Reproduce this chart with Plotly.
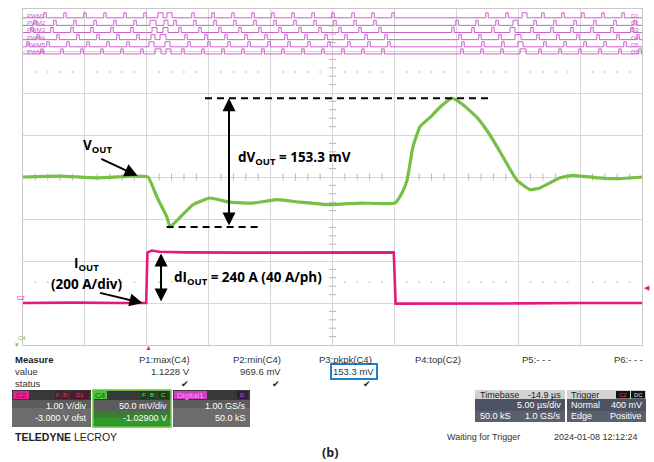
import plotly.graph_objects as go

# ---------------- data read off the scope capture ----------------
# time in µs, trigger at 0, 5 µs/div over 10 divisions
T_RANGE = [-10, 40]
DIV_RANGE = [0, 8]

# C4 : VOUT (V), 50 mV/div, centred on 1.029 V
VOUT_T = [-10, -7, -4, -1, 0.1, 0.82, 1.63, 1.87, 2.68, 3.73, 5.10, 6.72, 8.58, 10.52,
          12.37, 14.80, 17.22, 20.05, 20.61, 21.02, 21.50, 22.07, 22.88, 23.68, 24.65,
          25.54, 26.67, 27.72, 28.77, 29.90, 30.95, 31.76, 33.38, 34.43, 36.37, 38.0, 40.0]
VOUT_V = [1.029, 1.030, 1.028, 1.030, 1.029, 1.005, 0.981, 0.9696, 0.981, 0.996, 1.004,
          0.999, 0.998, 1.002, 0.999, 0.996, 0.998, 0.998, 1.010, 1.025, 1.065, 1.089,
          1.100, 1.112, 1.1228, 1.115, 1.100, 1.079, 1.053, 1.025, 1.014, 1.016, 1.028,
          1.031, 1.028, 1.027, 1.029]
C4_CENTER_V = 1.029
C4_V_PER_DIV = 0.05

# C2 : IOUT (A), 200 A/div
IOUT_T = [-10, -6, -2, -0.05, 0.05, 0.4, 1.0, 3.0, 8.0, 14.0, 19.95, 20.1, 25.0, 30.0, 35.0, 40.0]
IOUT_A = [0, 2, 0, 0, 240, 250, 244, 241, 240, 242, 241, -3, -4, -2, 0, 0]
C2_A_PER_DIV = 200
C2_ZERO_DIV = 1.0

# digital PWM1..PWM6: narrow pulse centres (µs) and wide pulses (start, end)
PWM1_T = [-8.22, -6.61, -4.99, -3.38, -1.76, -0.15, 3.73, 5.35, 6.96, 8.58, 10.19, 11.81,
          13.43, 15.04, 16.66, 18.27, 19.89, 27.48, 29.10, 32.00, 33.62, 35.23, 36.85, 38.47]
PWM1_WIDE = [(0.90, 1.31), (1.63, 2.04), (30.31, 30.71)]
PWM2_T = [-9.03, -7.42, -5.80, -4.18, -2.57, -0.95, 2.28, 3.89, 5.51, 7.12, 8.74, 10.36,
          11.97, 13.59, 15.20, 16.82, 18.43, 25.06, 26.67, 28.29, 31.36, 32.97, 34.59, 36.20,
          37.82, 39.44]
PWM2_WIDE = [(0.26, 0.74), (1.39, 1.71), (29.58, 29.98)]
PWM3_T = [-9.27, -7.66, -6.04, -4.43, -2.81, -1.20, 2.68, 4.30, 5.91, 7.53, 9.14, 10.76,
          12.38, 13.99, 15.61, 17.22, 18.84, 24.73, 26.35, 27.96, 31.12, 32.73, 34.35, 35.96,
          37.58, 39.19]
PWM3_WIDE = [(0.42, 0.82), (1.31, 1.71), (29.34, 29.74)]
PWM4_T = [-8.79, -7.17, -5.56, -3.94, -2.33, -0.71, 3.17, 4.78, 6.40, 8.01, 9.63, 11.24,
          12.86, 14.48, 16.09, 17.71, 19.32, 25.30, 26.91, 28.53, 31.60, 33.21, 34.83, 36.45,
          38.06, 39.68]
PWM4_WIDE = [(0.34, 0.66), (1.07, 1.55), (29.74, 30.23)]
PWM5_T = [-9.60, -7.98, -6.37, -4.75, -3.13, -1.52, 3.41, 5.02, 6.64, 8.26, 9.87, 11.49,
          13.10, 14.72, 16.33, 17.95, 19.56, 25.54, 27.16, 28.77, 32.16, 33.78, 35.40, 37.01,
          38.63]
PWM5_WIDE = [(0.18, 0.58), (1.47, 1.87), (29.98, 30.39)]
PWM6_T = [-8.47, -6.85, -5.23, -3.62, -2.00, -0.39, 2.92, 4.54, 6.16, 7.77, 9.39, 11.00,
          12.62, 14.23, 15.85, 17.46, 19.08, 25.46, 27.08, 28.69, 31.76, 33.38, 34.99, 36.61,
          38.22, 39.84]
PWM6_WIDE = [(0.66, 1.15), (1.55, 1.95), (30.15, 30.63)]
PWM_PULSE_W = 0.2
PWM_BASE_DIV = [7.79, 7.61, 7.44, 7.27, 7.10, 6.93]
PWM_HIGH_DIV = 0.12

MEAS_NAMES = ["P1:max(C4)", "P2:min(C4)", "P3:pkpk(C4)", "P4:top(C2)", "P5:- - -", "P6:- - -"]
MEAS_VALUES = ["1.1228 V", "969.6 mV", "153.3 mV", "", "", ""]
MEAS_OK = [True, True, True, False, False, False]

DV_LABEL = "153.3 mV"
DI_LABEL = "240 A (40 A/ph)"

# ---------------- styling ----------------
GREEN = "#76c043"
PINK = "#e5187c"
DIG = "#c862c8"
GRID = "#d6d6d6"
L, R, T, B = 23, 642, 9, 345      # scope screen in page pixels
W, H = 654, 462
SANS = "Liberation Sans, Arial, sans-serif"
BOLD = "Open Sans, Roboto, Arial, sans-serif"


def px(x, y):
    """page pixel -> paper coords of the plot area"""
    return (x - L) / (R - L), (B - y) / (B - T)


def v_div(v):
    return (v - C4_CENTER_V) / C4_V_PER_DIV + 4


def i_div(a):
    return a / C2_A_PER_DIV + C2_ZERO_DIV


def pwm_xy(centres, wide, base):
    spans = [(c - PWM_PULSE_W / 2, c + PWM_PULSE_W / 2) for c in centres] + list(wide)
    spans.sort()
    xs, ys = [T_RANGE[0]], [base]
    for a, b in spans:
        xs += [a, a, b, b]
        ys += [base, base + PWM_HIGH_DIV, base + PWM_HIGH_DIV, base]
    xs.append(T_RANGE[1])
    ys.append(base)
    return xs, ys


fig = go.Figure()

# centre crosshair ticks and dotted rows
tick_x = [float(t) for t in range(-10, 41) if t % 5]
fig.add_trace(go.Scatter(x=tick_x, y=[4] * len(tick_x), mode="markers", hoverinfo="skip",
                         marker=dict(symbol="line-ns", size=5, line=dict(color="#b8b8b8", width=1))))
tick_y = [k / 5 for k in range(0, 41) if k % 5]
fig.add_trace(go.Scatter(x=[15] * len(tick_y), y=tick_y, mode="markers", hoverinfo="skip",
                         marker=dict(symbol="line-ew", size=5, line=dict(color="#b8b8b8", width=1))))
for row in (1.5, 6.5):
    fig.add_trace(go.Scatter(x=tick_x, y=[row] * len(tick_x), mode="markers", hoverinfo="skip",
                             marker=dict(size=2, color="#cfcfcf")))

# digital traces
pwm_sets = [(PWM1_T, PWM1_WIDE), (PWM2_T, PWM2_WIDE), (PWM3_T, PWM3_WIDE),
            (PWM4_T, PWM4_WIDE), (PWM5_T, PWM5_WIDE), (PWM6_T, PWM6_WIDE)]
for k, (cen, wide) in enumerate(pwm_sets):
    xs, ys = pwm_xy(cen, wide, PWM_BASE_DIV[k])
    fig.add_trace(go.Scatter(x=xs, y=ys, mode="lines", line=dict(color=DIG, width=1),
                             hoverinfo="skip"))

# analog traces
fig.add_trace(go.Scatter(x=IOUT_T, y=[i_div(a) for a in IOUT_A], mode="lines",
                         line=dict(color=PINK, width=2.6), name="IOUT"))
fig.add_trace(go.Scatter(x=VOUT_T, y=[v_div(v) for v in VOUT_V], mode="lines",
                         line=dict(color=GREEN, width=3.2, shape="spline", smoothing=0.4),
                         name="VOUT"))

vmax, vmin = max(VOUT_V), min(VOUT_V)
ihi = max(IOUT_A[4:11])
shapes = [
    dict(type="line", xref="x", yref="y", x0=4.7, x1=27.7, y0=v_div(vmax), y1=v_div(vmax),
         line=dict(color="black", width=2, dash="7px,5px")),
    dict(type="line", xref="x", yref="y", x0=1.6, x1=9.0, y0=v_div(vmin), y1=v_div(vmin),
         line=dict(color="black", width=2, dash="7px,5px")),
]

ann = []


def arrow(x0, y0, x1, y1, both=False):
    ann.append(dict(x=x1, y=y1, ax=x0, ay=y0, xref="x", yref="y", axref="x", ayref="y",
                    text="", showarrow=True, arrowhead=2, arrowsize=1.3, arrowwidth=2,
                    arrowcolor="black", arrowside="end+start" if both else "end"))


arrow(6.64, v_div(vmin), 6.64, v_div(vmax), both=True)
arrow(1.15, i_div(0), 1.15, i_div(ihi) - 0.07, both=True)
arrow(-3.8, 4.45, -0.75, 4.03)
arrow(-3.9, 1.25, -0.35, 1.0)


def label(x, y, text, size=13.5, anchor="left", color="black", font=BOLD):
    ann.append(dict(x=x, y=y, xref="x", yref="y", text=text,
                    showarrow=False, xanchor=anchor, yanchor="middle",
                    font=dict(size=size, color=color, family=font)))


label(-3.95, 4.74, "<b>V<sub>OUT</sub></b>", anchor="center")
label(-4.85, 1.93, "<b>I<sub>OUT</sub></b>", anchor="center")
label(-4.85, 1.45, "<b>(200 A/div)</b>", anchor="center")
label(7.2, 4.45, f"<b>dV<sub>OUT</sub> = {DV_LABEL}</b>")
label(2.0, 1.6, f"<b>dI<sub>OUT</sub> = {DI_LABEL}</b>")

# PWM labels
for k in range(6):
    label(-9.85, PWM_BASE_DIV[k] + 0.05, f"PWM{k + 1}", size=6, color=DIG, font=SANS)
    label(39.95, PWM_BASE_DIV[k] + 0.05, f"D{k + 1}", size=6, anchor="right", color=DIG, font=SANS)


def ptext(x, y, text, size=9.5, anchor="left", color="#333", bold=False, font=SANS):
    xp, yp = px(x, y)
    ann.append(dict(x=xp, y=yp, xref="paper", yref="paper", showarrow=False,
                    text=f"<b>{text}</b>" if bold else text, xanchor=anchor, yanchor="middle",
                    font=dict(size=size, color=color, family=font)))


def prect(x0, y0, x1, y1, fill, line=None, lw=0):
    a, b = px(x0, y1)
    c, d = px(x1, y0)
    shapes.append(dict(type="rect", xref="paper", yref="paper", x0=a, y0=b, x1=c, y1=d,
                       fillcolor=fill, line=dict(color=line or fill, width=lw), layer="above"))


# ground / trigger markers
ptext(15, 298, "C2", size=6, color=PINK)
ptext(16, 338, "C4", size=6, color=GREEN)
ptext(17, 344, "▾", size=7, color=GREEN, anchor="center")
ptext(148, 347, "▲", size=7, color=PINK, anchor="center")
ptext(647, 287, "◀", size=7, color=PINK, anchor="center")

# measurement table
ptext(13, 359, "Measure", bold=True, color="#222")
ptext(13, 371, "value")
ptext(13, 383, "status")
col_right = [192, 283, 374, 463, 553, 645]
for xr, name, val, ok in zip(col_right, MEAS_NAMES, MEAS_VALUES, MEAS_OK):
    ptext(xr, 359, name, anchor="right")
    if val:
        ptext(xr if name[1] != "3" else 376, 371, val, anchor="right")
    if ok:
        ptext(xr - 7, 384, "✔", size=9, anchor="center", color="#222")
prect(331, 364, 377, 379, "rgba(0,0,0,0)", line="#1f7ec8", lw=2)

# channel panels
prect(12, 390, 91, 427, "#5c5c5c")
prect(12, 390, 91, 400, "#383838")
prect(12, 408, 91, 427, "#6c6c6c")
prect(13, 391, 29, 399, "#e3238f")
ptext(21, 395, "C2", size=8, color="#8a1050", anchor="center")
for x0, x1, t in ((55, 61, "F"), (62, 68, "B"), (70, 89, "D1")):
    prect(x0, 391, x1, 399, "#4a1a30")
    ptext((x0 + x1) / 2, 395, t, size=6, color="#e04070", anchor="center")
ptext(89, 406, "1.00 V/div", size=9, color="white", anchor="right")
ptext(89, 418, "-3.000 V ofst", size=9, color="white", anchor="right")

prect(93, 390, 171, 427, "#5c5c5c", line="#62d13a", lw=1.5)
prect(94, 391, 170, 400, "#383838")
prect(94, 411, 170, 426, "#3d7a34")
prect(94, 418, 170, 426, "#2f9a2a")
prect(94, 391, 107, 399, "#4cc23a")
ptext(100.5, 395, "C4", size=8, color="#1c5a14", anchor="center")
for x0, x1, t in ((141, 147, "F"), (149, 155, "B"), (158, 168, "C")):
    prect(x0, 391, x1, 399, "#1e3a1a")
    ptext((x0 + x1) / 2, 395, t, size=6, color="#6ee05a", anchor="center")
ptext(169, 406, "50.0 mV/div", size=9, color="white", anchor="right")
ptext(169, 418, "-1.02900 V", size=9, color="white", anchor="right")

prect(173, 390, 250, 427, "#5c5c5c")
prect(173, 390, 250, 400, "#383838")
prect(173, 408, 250, 427, "#6c6c6c")
prect(174, 391, 207, 399, "#d23cc8")
ptext(190.5, 395, "Digital1", size=8, color="#f0a0f0", anchor="center")
prect(237, 391, 248, 399, "#3a1a40")
ptext(242.5, 395, "D", size=6, color="#c060e0", anchor="center")
ptext(248, 406, "1.00 GS/s", size=9, color="white", anchor="right")
ptext(248, 418, "50.0 kS", size=9, color="white", anchor="right")

prect(475, 390, 565, 422, "#4d5362")
prect(475, 390, 565, 399, "#d2d2d2")
prect(475, 411, 565, 422, "#5a606e")
ptext(478, 394.5, "Timebase", size=9, color="#222")
ptext(563, 394.5, "-14.9 µs", size=9, color="#222", anchor="right")
ptext(563, 405, "5.00 µs/div", size=9, color="white", anchor="right")
ptext(478, 416, "50.0 kS", size=9, color="white")
ptext(563, 416, "1.0 GS/s", size=9, color="white", anchor="right")

prect(567, 390, 646, 422, "#4d5362")
prect(567, 390, 646, 399, "#d2d2d2")
prect(567, 411, 646, 422, "#5a606e")
ptext(569, 394.5, "Trigger", size=9, color="#222")
prect(616, 391, 630, 398.5, "#111")
prect(631, 391, 645, 398.5, "#111")
ptext(623, 394.5, "C2", size=6, color="#e04080", anchor="center")
ptext(638, 394.5, "DC", size=6, color="#e0e0e0", anchor="center")
ptext(569, 405, "Normal", size=9, color="white")
ptext(644, 405, "400 mV", size=9, color="white", anchor="right")
ptext(569, 416, "Edge", size=9, color="white")
ptext(644, 416, "Positive", size=9, color="white", anchor="right")

ptext(13, 437, "<b>TELEDYNE</b> LECROY", size=10.5, color="#222")
ptext(445, 437, "Waiting for Trigger", size=9, color="#333")
ptext(640, 437, "2024-01-08 12:12:24", size=9, color="#333", anchor="right")
ptext(330, 452, "(b)", size=12.5, bold=True, color="#222", anchor="center", font=BOLD)

axis = dict(showgrid=True, gridcolor=GRID, gridwidth=1, zeroline=False, showticklabels=False,
            ticks="", showline=True, linecolor="#c8c8c8", linewidth=1, mirror=True, fixedrange=True)
fig.update_layout(
    width=W, height=H, showlegend=False,
    paper_bgcolor="white", plot_bgcolor="white",
    margin=dict(l=L, r=W - R, t=T, b=H - B),
    xaxis=dict(range=T_RANGE, dtick=5, tick0=-10, **axis),
    yaxis=dict(range=DIV_RANGE, dtick=1, tick0=0, **axis),
    shapes=shapes, annotations=ann,
)
# drop the page's default body margin so the figure sits at the window's top-left
fig.write_html("out.html", config={"displayModeBar": False},
               post_script="document.body.style.margin='0';")
